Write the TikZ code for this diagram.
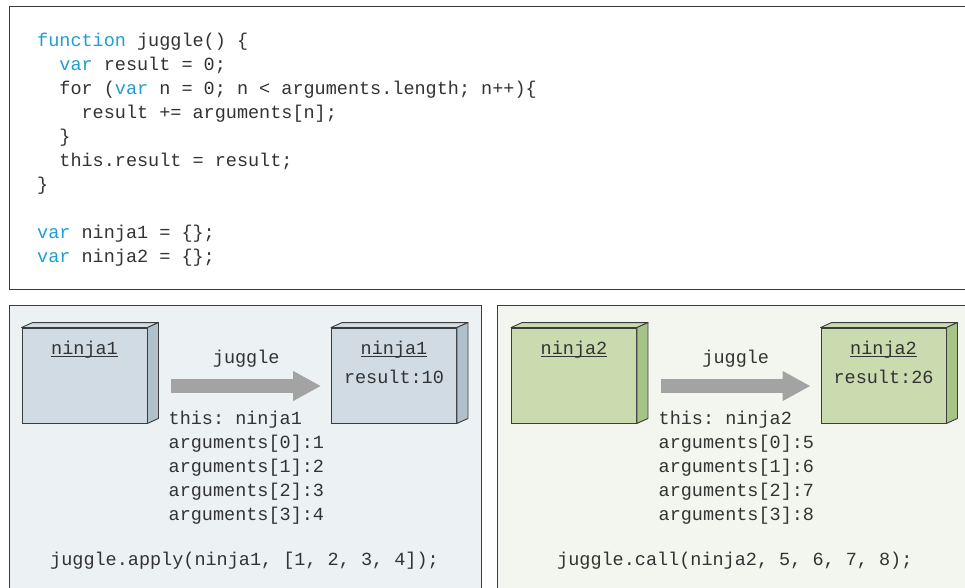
\documentclass[tikz,border=0pt]{standalone}
\usepackage{fontspec}
\setmonofont{Liberation Mono}
\usepackage{tikz}
\usetikzlibrary{arrows.meta, positioning, calc}
\definecolor{codeblue}{RGB}{32, 158, 210}
\definecolor{inkgray}{RGB}{51, 51, 51}
\definecolor{framegray}{RGB}{60, 60, 60}
\definecolor{paneblue}{RGB}{236, 241, 244}
\definecolor{panegreen}{RGB}{243, 246, 239}
\definecolor{boxblue}{RGB}{208, 219, 227}
\definecolor{sideblue}{RGB}{176, 193, 203}
\definecolor{boxgreen}{RGB}{203, 219, 176}
\definecolor{sidegreen}{RGB}{166, 195, 136}
\definecolor{arrowgray}{RGB}{163, 163, 163}
\newcommand{\kw}[1]{\textcolor{codeblue}{#1}}
\newcommand{\codeindent}{\hspace*{22.2pt}}
\newlength{\objw}
\newcommand{\objname}[1]{\settowidth{\objw}{#1}\makebox[0pt][l]{\rule[-2.6pt]{\objw}{1.1pt}}#1}

\begin{document}
\begin{tikzpicture}[
    x=1pt, y=-1pt,
    every node/.style={font=\ttfamily\fontsize{18.5}{24}\selectfont, text=inkgray, inner sep=0pt},
    pane/.style={draw=framegray, line width=1.2pt, anchor=north west},
    objbox/.style={draw=framegray, line width=0.9pt, minimum width=125pt, minimum height=95pt},
    blueobj/.style={objbox, fill=boxblue},
    greenobj/.style={objbox, fill=boxgreen},
    jugglearrow/.style={draw=arrowgray, line width=14pt, -{Triangle[length=28pt, width=28pt]}},
]
\clip (0,0) rectangle (965,587);

% ── Panels ──
\node[pane, fill=white, minimum width=970pt, minimum height=283pt] (codepane) at (9,6) {};
\node[pane, fill=paneblue, minimum width=472pt, minimum height=300pt] (applypane) at (9,305) {};
\node[pane, fill=panegreen, minimum width=480pt, minimum height=300pt] (callpane) at (497,305) {};

% ── Source code (base = last line) ──
\node[anchor=base west, align=left] (code) at (37,262) {%
\kw{function} juggle() \{\\
\codeindent\kw{var} result = 0;\\
\codeindent for (\kw{var} n = 0; n < arguments.length; n++)\{\\
\codeindent\codeindent result += arguments[n];\\
\codeindent\}\\
\codeindent this.result = result;\\
\}\\[24pt]
\kw{var} ninja1 = \{\};\\
\kw{var} ninja2 = \{\};};

% ── Objects ──
\node[blueobj] (n1a) at (84.5,375.5) {};
\node[blueobj] (n1b) at (394,375.5) {};
\node[greenobj] (n2a) at (574,375.5) {};
\node[greenobj] (n2b) at (883.5,375.5) {};

\foreach \b/\c/\s in {n1a/boxblue/sideblue, n1b/boxblue/sideblue, n2a/boxgreen/sidegreen, n2b/boxgreen/sidegreen} {
  \draw[draw=framegray, line width=0.9pt, fill=\c, line join=round]
    (\b.north west) -- ([shift={(11,-5)}]\b.north west) -- ([shift={(11,-5)}]\b.north east) -- (\b.north east) -- cycle;
  \draw[draw=framegray, line width=0.9pt, fill=\s, line join=round]
    (\b.north east) -- ([shift={(11,-5)}]\b.north east) -- ([shift={(11,-5)}]\b.south east) -- (\b.south east) -- cycle;
}

\node[anchor=base] (n1atitle) at ([yshift=-27pt]n1a.north) {\objname{ninja1}};
\node[anchor=base] (n1btitle) at ([yshift=-27pt]n1b.north) {\objname{ninja1}};
\node[anchor=base] (n1bresult) at ([yshift=-56pt]n1b.north) {result:10};
\node[anchor=base] (n2atitle) at ([yshift=-27pt]n2a.north) {\objname{ninja2}};
\node[anchor=base] (n2btitle) at ([yshift=-27pt]n2b.north) {\objname{ninja2}};
\node[anchor=base] (n2bresult) at ([yshift=-56pt]n2b.north) {result:26};

% ── Invocations ──
\draw[jugglearrow] ([shift={(24,10.5)}]n1a.east) -- node[anchor=base, yshift=23pt] (applylabel) {juggle} ([shift={(-10,10.5)}]n1b.west);
\draw[jugglearrow] ([shift={(24,10.5)}]n2a.east) -- node[anchor=base, yshift=23pt] (calllabel) {juggle} ([shift={(-10,10.5)}]n2b.west);

\node[anchor=base west, align=left] (applyargs) at ([shift={(21,97)}]n1a.south east)
  {this: ninja1\\arguments[0]:1\\arguments[1]:2\\arguments[2]:3\\arguments[3]:4};
\node[anchor=base west, align=left] (callargs) at ([shift={(21.5,97)}]n2a.south east)
  {this: ninja2\\arguments[0]:5\\arguments[1]:6\\arguments[2]:7\\arguments[3]:8};

\node[anchor=base west] (applycode) at (50,565) {juggle.apply(ninja1, [1, 2, 3, 4]);};
\node[anchor=base west] (callcode) at (557,565) {juggle.call(ninja2, 5, 6, 7, 8);};

\end{tikzpicture}
\end{document}
